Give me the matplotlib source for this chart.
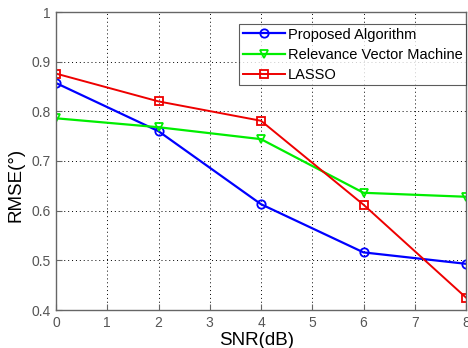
import matplotlib
matplotlib.use('Agg')
import matplotlib.pyplot as plt

snr = [0, 2, 4, 6, 8]
proposed = [0.857, 0.760, 0.613, 0.516, 0.493]
rvm = [0.786, 0.768, 0.744, 0.636, 0.628]
lasso = [0.876, 0.820, 0.781, 0.612, 0.425]

plt.rcParams['font.family'] = ['Liberation Sans', 'DejaVu Sans']

fig = plt.figure(figsize=(4.68, 3.48), dpi=100)
ax = fig.add_axes([56/468, 38/348, 410/468, 298/348])

ax.plot(snr, proposed, '-o', color='#0000ff', lw=1.6, ms=6, mfc='none', mew=1.3,
        label='Proposed Algorithm')
ax.plot(snr, rvm, '-v', color='#00ee00', lw=1.6, ms=6, mfc='none', mew=1.3,
        label='Relevance Vector Machine')
ax.plot(snr, lasso, '-s', color='#ee0000', lw=1.4, ms=6, mfc='none', mew=1.3,
        label='LASSO')

ax.set_xlim(0, 8)
ax.set_ylim(0.4, 1.0)
ax.set_xticks(range(0, 9))
ax.set_yticks([0.4, 0.5, 0.6, 0.7, 0.8, 0.9, 1.0])
ax.set_yticklabels(['0.4', '0.5', '0.6', '0.7', '0.8', '0.9', '1'])
ax.grid(True, color='black', linestyle=(0, (1, 3)), linewidth=0.7)
ax.tick_params(direction='in', length=4, labelsize=10, labelcolor='#555555',
               color='#666666', pad=4)
for s in ax.spines.values():
    s.set_color('#666666')
    s.set_linewidth(1.0)

ax.set_xlabel('SNR(dB)', fontsize=13.5)
ax.xaxis.set_label_coords(0.49, -0.075)
ax.set_ylabel('RMSE(°)', fontsize=13.5)
ax.yaxis.set_label_coords(-0.076, 0.42)

leg = ax.legend(loc='upper right', bbox_to_anchor=(1.0, 0.96), fontsize=10.5,
                frameon=True, fancybox=False, edgecolor='#333333',
                handlelength=2.9, borderpad=0.25, labelspacing=0.42,
                handletextpad=0.15, borderaxespad=0.0)
leg.get_frame().set_linewidth(0.8)

fig.savefig('out.png', dpi=100)
